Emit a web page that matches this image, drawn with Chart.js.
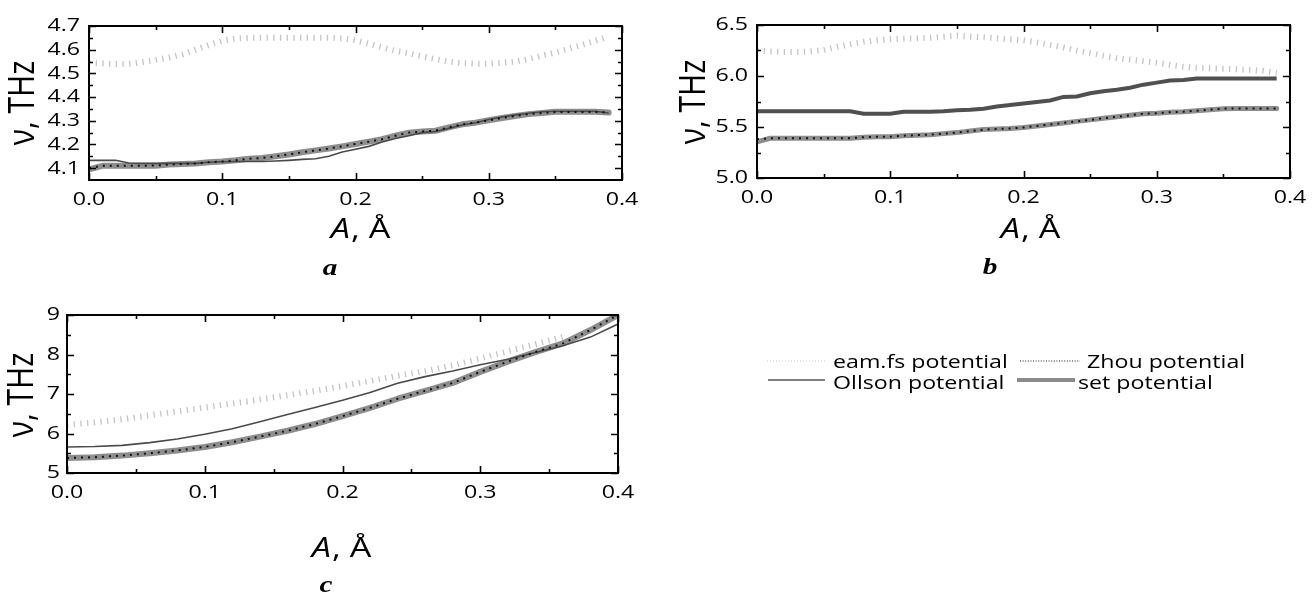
<!DOCTYPE html>
<html>
<head>
<meta charset="utf-8">
<script src="https://cdn.jsdelivr.net/npm/chart.js@4.4.1/dist/chart.umd.min.js"></script>
<style>
  body { margin: 0; background: #fff; width: 1312px; height: 595px; position: relative; overflow: hidden; font-family: "Open Sans", sans-serif; }
  canvas { position: absolute; }
  #chartA { left: 0; top: 0; }
  #chartB { left: 660px; top: 0; }
  #chartC { left: 0; top: 295px; }
  .leg { position: absolute; font-size: 19px; line-height: 22px; color: #000; white-space: nowrap;
         transform: scaleX(1.22); transform-origin: 0 50%; }
  svg.legline { position: absolute; left: 0; top: 0; }
</style>
</head>
<body>
<canvas id="chartA" width="660" height="295"></canvas>
<canvas id="chartB" width="652" height="295"></canvas>
<canvas id="chartC" width="660" height="300"></canvas>

<svg class="legline" width="1312" height="595">
  <line x1="767" y1="361" x2="825" y2="361" stroke="#c4c4c4" stroke-width="1.2" stroke-dasharray="1 2"/>
  <line x1="1020" y1="361" x2="1080" y2="361" stroke="#222" stroke-width="1.2" stroke-dasharray="1 1.6"/>
  <line x1="768" y1="380" x2="825" y2="380" stroke="#555" stroke-width="1.6"/>
  <line x1="1017" y1="380" x2="1075" y2="380" stroke="#8a8a8a" stroke-width="4"/>
</svg>
<div class="leg" style="left:833px; top:350px;">eam.fs potential</div>
<div class="leg" style="left:1087px; top:350px;">Zhou potential</div>
<div class="leg" style="left:833px; top:371px;">Ollson potential</div>
<div class="leg" style="left:1078px; top:371px;">set potential</div>

<script>
// Series names
const seriesNames = ['eam.fs potential', 'Zhou potential', 'Ollson potential', 'set potential'];

// Amplitude grid, panels a and b
const amplitudeAB = [0.00, 0.01, 0.02, 0.03, 0.04, 0.05, 0.06, 0.07, 0.08, 0.09,
    0.10, 0.11, 0.12, 0.13, 0.14, 0.15, 0.16, 0.17, 0.18, 0.19,
    0.20, 0.21, 0.22, 0.23, 0.24, 0.25, 0.26, 0.27, 0.28, 0.29,
    0.30, 0.31, 0.32, 0.33, 0.34, 0.35, 0.36, 0.37, 0.38, 0.39];

// Panel a
const eamA = [4.545, 4.542, 4.540, 4.540, 4.548, 4.557, 4.567, 4.580, 4.600, 4.620,
    4.638, 4.647, 4.650, 4.650, 4.650, 4.650, 4.650, 4.650, 4.650, 4.648,
    4.640, 4.625, 4.610, 4.595, 4.585, 4.572, 4.560, 4.550, 4.543, 4.541,
    4.541, 4.545, 4.550, 4.560, 4.575, 4.588, 4.605, 4.620, 4.638, 4.655];
const zhouA = [4.100, 4.110, 4.110, 4.110, 4.110, 4.111, 4.115, 4.118, 4.120, 4.125,
    4.128, 4.133, 4.140, 4.143, 4.150, 4.158, 4.167, 4.175, 4.183, 4.192,
    4.202, 4.212, 4.222, 4.237, 4.250, 4.255, 4.258, 4.272, 4.285, 4.292,
    4.302, 4.312, 4.320, 4.328, 4.333, 4.337, 4.337, 4.337, 4.337, 4.335];
const ollsonA = [4.133, 4.133, 4.133, 4.122, 4.120, 4.120, 4.120, 4.120, 4.120, 4.125,
    4.127, 4.128, 4.128, 4.128, 4.130, 4.133, 4.137, 4.140, 4.150, 4.168,
    4.180, 4.192, 4.210, 4.225, 4.237, 4.250, 4.255, 4.268, 4.282, 4.292,
    4.305, 4.316, 4.325, 4.332, 4.338, 4.340, 4.340, 4.340, 4.340, 4.333];
const setA = [4.095, 4.110, 4.110, 4.110, 4.110, 4.110, 4.115, 4.118, 4.120, 4.125,
    4.128, 4.133, 4.140, 4.143, 4.150, 4.158, 4.167, 4.175, 4.183, 4.192,
    4.202, 4.212, 4.222, 4.237, 4.250, 4.255, 4.258, 4.272, 4.285, 4.292,
    4.302, 4.312, 4.320, 4.328, 4.333, 4.338, 4.338, 4.338, 4.338, 4.335];

// Panel b
const eamB = [6.250, 6.240, 6.235, 6.235, 6.240, 6.255, 6.285, 6.310, 6.335, 6.350,
    6.360, 6.365, 6.370, 6.375, 6.385, 6.395, 6.385, 6.380, 6.370, 6.360,
    6.350, 6.330, 6.305, 6.280, 6.250, 6.225, 6.200, 6.175, 6.160, 6.145,
    6.130, 6.110, 6.090, 6.080, 6.075, 6.070, 6.065, 6.060, 6.050, 6.030];
const zhouB = [5.380, 5.390, 5.390, 5.390, 5.390, 5.390, 5.390, 5.390, 5.400, 5.405,
    5.405, 5.415, 5.420, 5.425, 5.435, 5.445, 5.460, 5.475, 5.480, 5.485,
    5.495, 5.510, 5.525, 5.540, 5.555, 5.570, 5.585, 5.600, 5.615, 5.630,
    5.635, 5.645, 5.650, 5.660, 5.670, 5.680, 5.682, 5.682, 5.682, 5.682];
const ollsonB = [5.655, 5.655, 5.655, 5.655, 5.655, 5.655, 5.655, 5.655, 5.630, 5.630,
    5.630, 5.650, 5.650, 5.650, 5.655, 5.665, 5.670, 5.680, 5.700, 5.715,
    5.730, 5.745, 5.760, 5.795, 5.800, 5.830, 5.850, 5.865, 5.885, 5.915,
    5.935, 5.955, 5.960, 5.975, 5.975, 5.975, 5.975, 5.975, 5.975, 5.975];
const setB = [5.355, 5.390, 5.390, 5.390, 5.390, 5.390, 5.390, 5.390, 5.400, 5.405,
    5.405, 5.415, 5.420, 5.425, 5.435, 5.445, 5.460, 5.475, 5.480, 5.485,
    5.495, 5.510, 5.525, 5.540, 5.555, 5.570, 5.585, 5.600, 5.615, 5.630,
    5.635, 5.645, 5.650, 5.660, 5.670, 5.680, 5.682, 5.682, 5.682, 5.682];

// Panel c
const amplitudeC = [0.00, 0.02, 0.04, 0.06, 0.08, 0.10, 0.12, 0.14, 0.16, 0.18,
    0.20, 0.22, 0.24, 0.26, 0.28, 0.30, 0.32, 0.34, 0.36, 0.38, 0.40];
const eamC = [6.22, 6.28, 6.36, 6.46, 6.56, 6.66, 6.76, 6.86, 6.97, 7.08,
    7.20, 7.33, 7.46, 7.58, 7.72, 7.90, 8.08, 8.26, 8.45];
const zhouC = [5.38, 5.40, 5.44, 5.50, 5.57, 5.66, 5.78, 5.92, 6.07, 6.24,
    6.44, 6.65, 6.88, 7.08, 7.28, 7.56, 7.82, 8.06, 8.28, 8.62, 9.00];
const ollsonC = [5.66, 5.67, 5.70, 5.77, 5.86, 5.98, 6.12, 6.30, 6.48, 6.66,
    6.84, 7.04, 7.27, 7.44, 7.58, 7.74, 7.88, 8.05, 8.22, 8.44, 8.77];
const setC = [5.38, 5.40, 5.44, 5.50, 5.57, 5.66, 5.78, 5.92, 6.07, 6.24,
    6.44, 6.65, 6.88, 7.08, 7.28, 7.56, 7.82, 8.06, 8.28, 8.62, 9.00];

// Tick labels
const xTicks = [0.0, 0.1, 0.2, 0.3, 0.4];
const yTicksA = [4.1, 4.2, 4.3, 4.4, 4.5, 4.6, 4.7];
const yTicksB = [5.0, 5.5, 6.0, 6.5];
const yTicksC = [5, 6, 7, 8, 9];

// the source figure has its lettering stretched sideways
const TEXT_STRETCH = 1.22;

const pts = (xs, ys) => ys.map((y, i) => ({ x: xs[i], y: y }));

function stretchText(ctx, sx) {
    const plain = ctx.fillText.bind(ctx);
    ctx.fillTextPlain = plain;
    ctx.fillText = function (text, x, y) {
        this.save();
        this.translate(x, y);
        this.scale(sx, 1);
        plain(text, 0, 0);
        this.restore();
    };
}

// frame, inward ticks, axis titles and panel letter
const panelDecor = {
    id: 'panelDecor',
    afterDraw(chart, args, o) {
        const ctx = chart.ctx;
        const { left, right, top, bottom } = chart.chartArea;
        const xs = chart.scales.x, ys = chart.scales.y;
        ctx.save();
        ctx.strokeStyle = '#000';
        ctx.lineWidth = 2;
        ctx.strokeRect(left, top, right - left, bottom - top);

        const minorX = [];
        for (let i = 0; i < o.xMajor.length - 1; i++) minorX.push((o.xMajor[i] + o.xMajor[i + 1]) / 2);
        const minorY = [];
        for (let i = 0; i < o.yMajor.length - 1; i++) minorY.push((o.yMajor[i] + o.yMajor[i + 1]) / 2);

        ctx.lineWidth = 1.6;
        ctx.beginPath();
        const xt = (v, len) => {
            const px = Math.round(xs.getPixelForValue(v)) + 0.5;
            ctx.moveTo(px, bottom); ctx.lineTo(px, bottom - len);
            ctx.moveTo(px, top); ctx.lineTo(px, top + len);
        };
        const yt = (v, len) => {
            const py = Math.round(ys.getPixelForValue(v)) + 0.5;
            ctx.moveTo(left, py); ctx.lineTo(left + len, py);
            ctx.moveTo(right, py); ctx.lineTo(right - len, py);
        };
        o.xMajor.forEach(v => xt(v, 7));
        minorX.forEach(v => xt(v, 4));
        o.yMajor.forEach(v => yt(v, 7));
        minorY.forEach(v => yt(v, 4));
        ctx.stroke();

        // x title: italic A, upright rest
        ctx.fillStyle = '#000';
        ctx.textBaseline = 'alphabetic';
        ctx.textAlign = 'left';
        const fItal = 'italic 28px "Open Sans"';
        const fNorm = '28px "Open Sans"';
        ctx.font = fItal;
        const wA = ctx.measureText('A').width * TEXT_STRETCH;
        ctx.font = fNorm;
        const wR = ctx.measureText(', Å').width * TEXT_STRETCH;
        const x0 = o.xTitle.x - (wA + wR) / 2;
        ctx.font = fItal;
        ctx.fillText('A', x0, o.xTitle.y);
        ctx.font = fNorm;
        ctx.fillText(', Å', x0 + wA + 1, o.xTitle.y);

        // y title, widened across the page like the rest
        ctx.save();
        ctx.translate(o.yTitle.x, o.yTitle.y);
        ctx.rotate(-Math.PI / 2);
        ctx.scale(1, TEXT_STRETCH);
        ctx.textAlign = 'center';
        ctx.textBaseline = 'middle';
        ctx.font = '30px "Open Sans"';
        ctx.fillTextPlain('ν, THz', 0, 0);
        ctx.restore();

        // panel letter
        ctx.textAlign = 'center';
        ctx.font = 'bold italic 24px "Liberation Serif"';
        ctx.fillText(o.letter, o.letterPos.x, o.letterPos.y);
        ctx.restore();
    }
};

function makePanel(id, cfg) {
    const canvas = document.getElementById(id);
    const W = canvas.width, H = canvas.height;
    const a = cfg.area;
    const ctx = canvas.getContext('2d');
    stretchText(ctx, TEXT_STRETCH);

    const datasets = [
        { label: seriesNames[0], data: pts(cfg.xs, cfg.eam), borderColor: '#c4c4c4', borderWidth: 6, borderDash: [1.3, 5.4], borderCapStyle: 'butt' },
        { label: seriesNames[1], data: pts(cfg.xs, cfg.zhou), borderColor: '#111', borderWidth: 2, borderDash: [2, 5] },
        { label: seriesNames[2], data: pts(cfg.xs, cfg.ollson), borderColor: cfg.ollsonColor, borderWidth: cfg.ollsonWidth },
        { label: seriesNames[3], data: pts(cfg.xs, cfg.set), borderColor: '#8e8e8e', borderWidth: cfg.setWidth, borderCapStyle: 'round', borderJoinStyle: 'round' }
    ];
    datasets.forEach(d => { d.pointRadius = 0; d.tension = 0; d.fill = false; });

    const tickFont = { family: 'Open Sans', size: 19 };

    return new Chart(ctx, {
        type: 'line',
        data: { datasets: datasets },
        plugins: [panelDecor],
        options: {
            responsive: false,
            animation: false,
            devicePixelRatio: 1,
            layout: { padding: { top: a.top, right: W - a.right, left: 0, bottom: 0 } },
            plugins: {
                legend: { display: false },
                tooltip: { enabled: false },
                panelDecor: cfg.decor
            },
            scales: {
                x: {
                    type: 'linear',
                    min: 0,
                    max: 0.4,
                    afterBuildTicks: s => { s.ticks = xTicks.map(v => ({ value: v })); },
                    afterFit: s => { s.height = H - a.bottom; },
                    grid: { display: false, drawTicks: false },
                    border: { display: false },
                    ticks: {
                        autoSkip: false,
                        maxRotation: 0,
                        padding: 8,
                        color: '#000',
                        font: tickFont,
                        callback: v => v.toFixed(1)
                    }
                },
                y: {
                    type: 'linear',
                    min: cfg.yMin,
                    max: cfg.yMax,
                    afterBuildTicks: s => { s.ticks = cfg.yTicks.map(v => ({ value: v })); },
                    afterFit: s => { s.width = a.left; },
                    grid: { display: false, drawTicks: false },
                    border: { display: false },
                    ticks: {
                        autoSkip: false,
                        padding: cfg.yPad,
                        color: '#000',
                        font: tickFont,
                        callback: v => v.toFixed(cfg.yDigits)
                    }
                }
            }
        }
    });
}

makePanel('chartA', {
    xs: amplitudeAB, eam: eamA, zhou: zhouA, ollson: ollsonA, set: setA,
    area: { left: 89, top: 26, right: 622, bottom: 180 },
    yMin: 4.05, yMax: 4.7, yTicks: yTicksA, yDigits: 1, yPad: 9,
    ollsonColor: '#4a4a4a', ollsonWidth: 1.6, setWidth: 6,
    decor: { xMajor: xTicks, yMajor: yTicksA, xTitle: { x: 360, y: 238 }, yTitle: { x: 24, y: 103 }, letter: 'a', letterPos: { x: 330, y: 275 } }
});

makePanel('chartB', {
    xs: amplitudeAB, eam: eamB, zhou: zhouB, ollson: ollsonB, set: setB,
    area: { left: 97, top: 25, right: 630, bottom: 178 },
    yMin: 5.0, yMax: 6.5, yTicks: yTicksB, yDigits: 1, yPad: 9,
    ollsonColor: '#505050', ollsonWidth: 4, setWidth: 5,
    decor: { xMajor: xTicks, yMajor: yTicksB, xTitle: { x: 370, y: 238 }, yTitle: { x: 35, y: 102 }, letter: 'b', letterPos: { x: 330, y: 274 } }
});

makePanel('chartC', {
    xs: amplitudeC, eam: eamC, zhou: zhouC, ollson: ollsonC, set: setC,
    area: { left: 67, top: 20, right: 618, bottom: 178 },
    yMin: 5, yMax: 9, yTicks: yTicksC, yDigits: 0, yPad: 7,
    ollsonColor: '#4a4a4a', ollsonWidth: 1.6, setWidth: 6,
    decor: { xMajor: xTicks, yMajor: yTicksC, xTitle: { x: 341, y: 262 }, yTitle: { x: 23, y: 100 }, letter: 'c', letterPos: { x: 326, y: 297 } }
});
</script>
</body>
</html>
